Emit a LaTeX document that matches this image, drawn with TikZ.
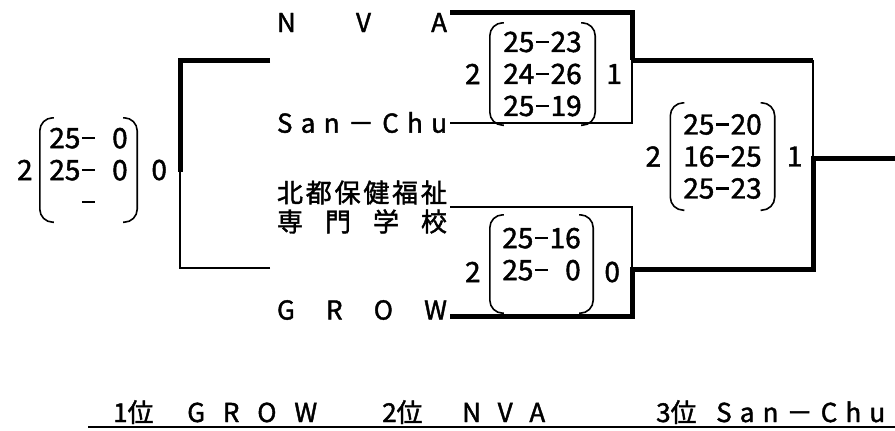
\documentclass[tikz,border=0pt]{standalone}
\usepackage{fontspec}
\setmainfont{Noto Sans CJK JP}[FakeBold=1.6]
\usepackage{tikz}
\usetikzlibrary{positioning}
\definecolor{ink}{gray}{0.0}
\newcommand{\scdash}{\kern0.05em\rule[0.32em]{0.48em}{0.085em}\kern0.05em}
\newcommand{\namebox}[2][170pt]{\makebox[#1][s]{#2}}
\tikzset{
  team/.style={inner xsep=3pt, inner ysep=0pt, align=center, text=ink,
               font=\fontsize{26}{29}\selectfont},
  score/.style={inner sep=0pt, minimum width=104pt, minimum height=104pt, align=center,
                text=ink, font=\fontsize{28}{32}\selectfont},
  res/.style={inner sep=0pt, text=ink, font=\fontsize{28}{32}\selectfont},
  paren/.style={draw=ink, line width=1.6pt, rounded corners=13pt},
  win/.style={draw=ink, line width=5pt},
  lose/.style={draw=ink, line width=2pt},
  standing/.style={inner sep=0pt, anchor=base west, text=ink, font=\fontsize{26}{29}\selectfont},
}

\begin{document}
\begin{tikzpicture}[x=1pt, y=-1pt]
  \useasboundingbox (0,0) rectangle (895,431);
  \node[team] (nva) at (362,22.5) {\namebox{N\hfil V\hfil A}};
  \node[team] (sanchu) at (362,122.5) {\namebox{S\hfil a\hfil n\hfil －\hfil C\hfil h\hfil u}};
  \node[team] (hokuto) at (362,207) {\namebox{北\hfil 都\hfil 保\hfil 健\hfil 福\hfil 祉}\\\namebox{専\hfil 門\hfil 学\hfil 校}};
  \node[team] (grow) at (362,310) {\namebox{G\hfil R\hfil O\hfil W}};

  \node[score, minimum width=97pt] (third) at (88.5,170) {25\scdash\hphantom{0}0\\25\scdash\hphantom{0}0\\\hphantom{25}\scdash\hphantom{00}};
  \node[score, minimum width=105pt, minimum height=102pt] (semiA) at (542.5,74) {25\scdash23\\24\scdash26\\25\scdash19};
  \node[score, minimum width=103pt, minimum height=98pt, text depth=20pt] (semiB) at (541.5,264) {25\scdash16\\25\scdash\hphantom{0}0};
  \node[score, minimum height=107pt] (final) at (722.5,156.5) {25\scdash20\\16\scdash25\\25\scdash23};
  \foreach \m in {third,semiA,semiB,final} {
    \draw[paren] ([xshift=14pt]\m.north west) -- (\m.north west) -- (\m.south west) -- ([xshift=14pt]\m.south west);
    \draw[paren] ([xshift=-14pt]\m.north east) -- (\m.north east) -- (\m.south east) -- ([xshift=-14pt]\m.south east);
  }

  \node[res, left=7pt of third] (thirdL) {2};
  \node[res, right=14pt of third] (thirdR) {0};
  \node[res, left=9pt of semiA] (semiAL) {2};
  \node[res, right=11pt of semiA] (semiAR) {1};
  \node[res, left=9pt of semiB, yshift=-8pt] (semiBL) {2};
  \node[res, right=11pt of semiB, yshift=-8pt] (semiBR) {0};
  \node[res, left=9pt of final] (finalL) {2};
  \node[res, right=12pt of final] (finalR) {1};

  \coordinate (thirdA) at (270,60);
  \coordinate (thirdB) at (270,268);
  \coordinate (thirdJ) at (180,172);
  \coordinate (semiAJ) at (632,60);
  \coordinate (semiBJ) at (632,269);
  \coordinate (finalJ) at (813,158);
  \coordinate (champ) at (895,158);
  \draw[win] (thirdA) -| (thirdJ);
  \draw[lose] (thirdB) -| (thirdJ);
  \draw[win] (nva.north east) -| (semiAJ);
  \draw[lose] (sanchu.east) -| (semiAJ);
  \draw[win] (semiAJ) -- (semiAJ -| finalJ);
  \draw[lose] (semiAJ -| finalJ) -- (finalJ);
  \draw[lose] (hokuto.east) -| (semiBJ);
  \draw[win] ([yshift=-6pt]grow.east) -| (semiBJ) -| (finalJ) -- (champ);

  \node[standing] (rank1) at (113,422) {1位};
  \node[standing] (rank1team) at (187,422) {\namebox[130pt]{G\hfil R\hfil O\hfil W}};
  \node[standing] (rank2) at (382,422) {2位};
  \node[standing] (rank2team) at (462,422) {\namebox[83pt]{N\hfil V\hfil A}};
  \node[standing] (rank3) at (656,422) {3位};
  \node[standing] (rank3team) at (716,422) {\namebox[169pt]{S\hfil a\hfil n\hfil －\hfil C\hfil h\hfil u}};
  \coordinate (ulA) at (88,427);
  \coordinate (ulB) at (895,427);
  \draw[lose, line width=2.5pt] (ulA) -- (ulB);
\end{tikzpicture}
\end{document}
